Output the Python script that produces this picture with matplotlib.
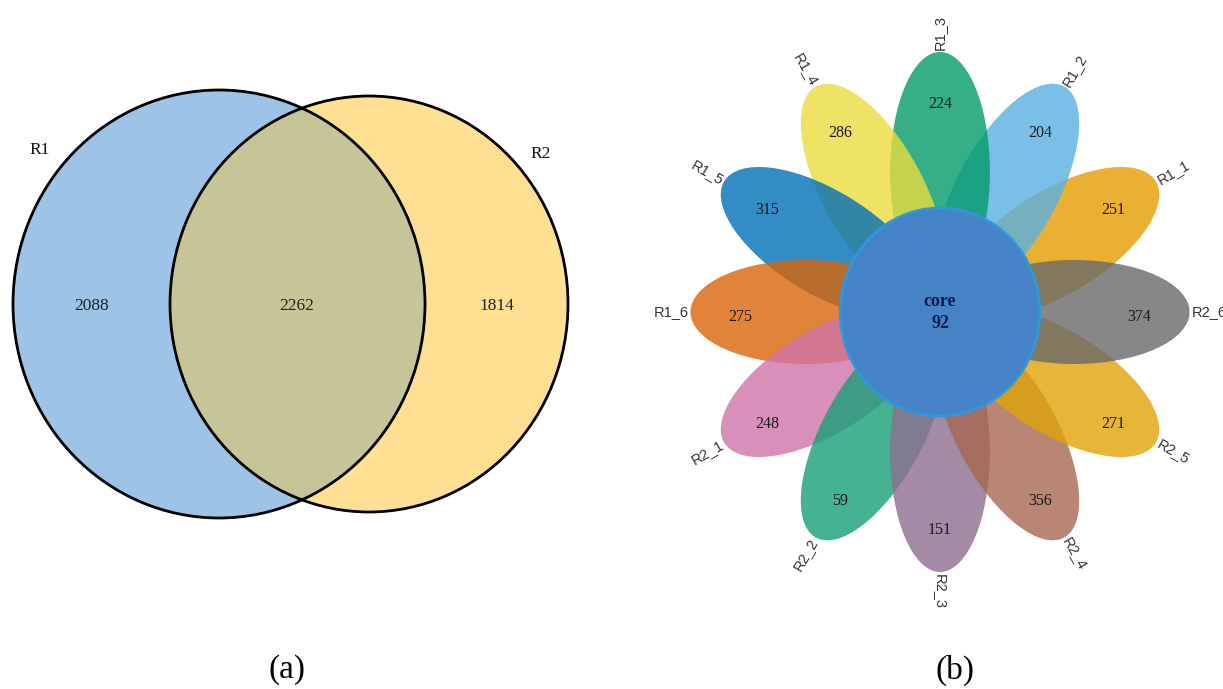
import numpy as np
import matplotlib
matplotlib.use("Agg")
import matplotlib.pyplot as plt
from matplotlib.patches import Ellipse, Circle
from matplotlib.transforms import Affine2D

# ---------------- data ----------------
venn_sets = ["R1", "R2"]
venn_counts = [2088, 2262, 1814]          # R1 only, shared, R2 only
venn_colors = ["#9DC3E6", "#FFE093", "#C6C598"]

petal_names = ["R1_1", "R1_2", "R1_3", "R1_4", "R1_5", "R1_6",
               "R2_1", "R2_2", "R2_3", "R2_4", "R2_5", "R2_6"]
petal_counts = [251, 204, 224, 286, 315, 275, 248, 59, 151, 356, 271, 374]
core_label = "core"
core_count = 92
petal_colors = ["#E59C00", "#59B0E2", "#049A6A", "#EADD3E", "#006FB5", "#DB6409",
                "#CF73A9", "#16A076", "#8F6D8F", "#A6684F", "#E0A309", "#696969"]
captions = ["(a)", "(b)"]

SERIF = ["Liberation Serif", "DejaVu Serif"]
SANS = ["Liberation Sans", "DejaVu Sans"]

fig = plt.figure(figsize=(12.23, 6.89), dpi=100)
ax = fig.add_axes([0, 0, 1, 1])
ax.set_xlim(0, 1223)
ax.set_ylim(689, 0)
ax.axis("off")

# ---------------- (a) Venn ----------------
c1, s1 = (219, 304), (412, 428)
c2, s2 = (369, 304), (398, 416)
e1 = Ellipse(c1, *s1, facecolor=venn_colors[0], edgecolor="none", zorder=1)
e2 = Ellipse(c2, *s2, facecolor=venn_colors[1], edgecolor="none", zorder=2)
ax.add_patch(e1)
ax.add_patch(e2)
clip = Ellipse(c1, *s1, facecolor="none", edgecolor="none")
ax.add_patch(clip)
ov = Ellipse(c2, *s2, facecolor=venn_colors[2], edgecolor="none", zorder=3)
ax.add_patch(ov)
ov.set_clip_path(clip)
for c, s in [(c1, s1), (c2, s2)]:
    ax.add_patch(Ellipse(c, *s, facecolor="none", edgecolor="black", lw=2.0, zorder=4))

ax.text(40, 150, venn_sets[0], family=SERIF, fontsize=12.5, ha="center", va="center", color="#111")
ax.text(541, 154, venn_sets[1], family=SERIF, fontsize=12.5, ha="center", va="center", color="#111")
for x, v in zip([92, 297, 497], venn_counts):
    ax.text(x, 306, str(v), family=SERIF, fontsize=12.5, ha="center", va="center", color="#222", zorder=5)

# ---------------- (b) flower ----------------
cx, cy, sx = 940, 312, 0.96
ftr = Affine2D().scale(sx, -1).translate(cx, cy) + ax.transData
d, a, b = 140, 120, 52
rx_num, ry_num, dy_num = 208, 213, -5
r_lab = 262

n = len(petal_names)
for i in range(n):
    ang = 30 * (i + 1)
    t = np.deg2rad(ang)
    el = Ellipse((d * np.cos(t), d * np.sin(t)), 2 * a, 2 * b, angle=ang,
                 facecolor=petal_colors[i], edgecolor="none", alpha=0.8,
                 transform=ftr, zorder=10 + i)
    ax.add_patch(el)
    ax.text(rx_num * np.cos(t), ry_num * np.sin(t) + dy_num, str(petal_counts[i]), transform=ftr,
            family=SERIF, fontsize=11.5, ha="center", va="center", color="#1a1a1a", zorder=40)
    a_norm = ((ang + 180) % 360) - 180
    if -90 <= a_norm <= 90:
        rot, ha = a_norm, "left"
    else:
        rot, ha = a_norm - 180 if a_norm > 0 else a_norm + 180, "right"
    ax.text(r_lab * np.cos(t), r_lab * np.sin(t), petal_names[i], transform=ftr,
            family=SANS, fontsize=10.5, rotation=rot, rotation_mode="anchor",
            ha=ha, va="center", color="#333333", zorder=40)

core = Circle((0, 0), 104, facecolor="#4682C6", edgecolor="#2E98DA", lw=2,
              transform=ftr, zorder=30)
ax.add_patch(core)
ax.text(0, 11, core_label, transform=ftr, family=SERIF, fontsize=13, fontweight="bold",
        ha="center", va="center", color="#0B1C4A", zorder=41)
ax.text(0, -11, str(core_count), transform=ftr, family=SERIF, fontsize=13, fontweight="bold",
        ha="center", va="center", color="#0B1C4A", zorder=41)

# ---------------- captions ----------------
ax.text(287, 670, captions[0], family=SERIF, fontsize=24, ha="center", va="center", color="black")
ax.text(955, 670, captions[1], family=SERIF, fontsize=24, ha="center", va="center", color="black")

fig.savefig("out.png", dpi=100)
